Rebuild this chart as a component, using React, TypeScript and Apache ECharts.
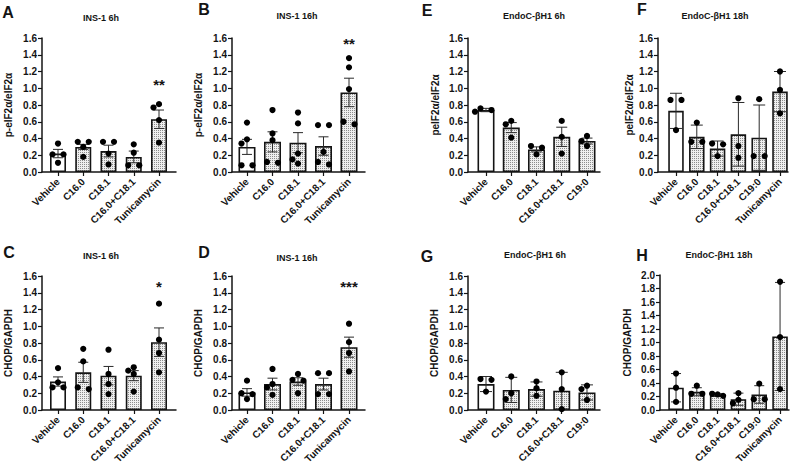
import React, { useEffect, useRef } from 'react';
import * as echarts from 'echarts';

const FONT = '"Liberation Sans", Arial, Helvetica, sans-serif';

// ---------- categories ----------
const catsINS1 = ['Vehicle', 'C16.0', 'C18.1', 'C16.0+C18.1', 'Tunicamycin'];
const catsEndoC6h = ['Vehicle', 'C16.0', 'C18.1', 'C16.0+C18.1', 'C19:0'];
const catsEndoC18h = ['Vehicle', 'C16.0', 'C18.1', 'C16.0+C18.1', 'C19:0', 'Tunicamycin'];

// ---------- A: INS-1 6h p-eIF2a ----------
const meanA = [0.22, 0.30, 0.25, 0.18, 0.63];
const errA = [0.05, 0.03, 0.07, 0.07, 0.11];
const ptsA = [[0.34, 0.21, 0.21, 0.11], [0.36, 0.36, 0.30, 0.18], [0.36, 0.36, 0.22, 0.09], [0.33, 0.23, 0.08, 0.08], [0.81, 0.77, 0.62, 0.35]];
const sigA = [{ cat: 4, y: 1.05, text: '**' }];

// ---------- B: INS-1 16h p-eIF2a ----------
const meanB = [0.30, 0.36, 0.35, 0.31, 0.95];
const errB = [0.09, 0.12, 0.12, 0.11, 0.17];
const ptsB = [[0.59, 0.39, 0.34, 0.08, 0.08], [0.74, 0.46, 0.38, 0.12, 0.11], [0.71, 0.58, 0.22, 0.15, 0.10], [0.56, 0.56, 0.24, 0.12, 0.09], [1.36, 1.25, 0.99, 0.60, 0.57]];
const sigB = [{ cat: 4, y: 1.53, text: '**' }];

// ---------- C: INS-1 6h CHOP ----------
const meanC = [0.34, 0.45, 0.41, 0.41, 0.81];
const errC = [0.055, 0.12, 0.11, 0.06, 0.17];
const ptsC = [[0.50, 0.33, 0.27, 0.27], [0.73, 0.58, 0.27, 0.25], [0.72, 0.43, 0.31, 0.19], [0.51, 0.47, 0.43, 0.22], [1.27, 0.84, 0.68, 0.45]];
const sigC = [{ cat: 4, y: 1.48, text: '*' }];

// ---------- D: INS-1 16h CHOP ----------
const meanD = [0.21, 0.31, 0.34, 0.31, 0.75];
const errD = [0.045, 0.07, 0.045, 0.07, 0.12];
const ptsD = [[0.35, 0.20, 0.19, 0.13], [0.49, 0.31, 0.27, 0.18], [0.43, 0.36, 0.35, 0.20], [0.44, 0.44, 0.19, 0.19], [1.03, 0.81, 0.68, 0.46]];
const sigD = [{ cat: 4, y: 1.47, text: '***' }];

// ---------- E: EndoC-βH1 6h p-eIF2a ----------
const meanE = [0.74, 0.53, 0.27, 0.42, 0.37];
const errE = [0.02, 0.06, 0.03, 0.115, 0.035];
const ptsE = [[0.76, 0.74, 0.72], [0.61, 0.57, 0.41], [0.31, 0.29, 0.21], [0.61, 0.42, 0.22], [0.43, 0.37, 0.31]];

// ---------- F: EndoC-βH1 18h p-eIF2a ----------
const meanF = [0.73, 0.42, 0.28, 0.45, 0.41, 0.96];
const errF = [0.21, 0.14, 0.09, 0.38, 0.39, 0.24];
const ptsF = [[0.86, 0.86, 0.50], [0.59, 0.36, 0.36], [0.34, 0.33, 0.19], [0.88, 0.31, 0.17], [0.87, 0.19, 0.19], [1.20, 0.98, 0.70]];

// ---------- G: EndoC-βH1 6h CHOP ----------
const meanG = [0.31, 0.24, 0.25, 0.23, 0.21];
const errG = [0.09, 0.15, 0.085, 0.22, 0.09];
const ptsG = [[0.37, 0.36, 0.22], [0.40, 0.20, 0.13], [0.34, 0.26, 0.17], [0.45, 0.25, 0.01], [0.29, 0.25, 0.12]];

// ---------- H: EndoC-βH1 18h CHOP ----------
const meanH = [0.33, 0.27, 0.22, 0.16, 0.23, 1.09];
const errH = [0.21, 0.06, 0.02, 0.09, 0.13, 0.80];
const ptsH = [[0.54, 0.33, 0.12], [0.36, 0.24, 0.24], [0.24, 0.23, 0.21], [0.25, 0.15, 0.10], [0.39, 0.16, 0.16], [1.90, 1.08, 0.31]];

const yNameINS = 'p-eIF2\u03b1/eIF2\u03b1';
const yNameEndo = 'peIF2\u03b1/eIF2\u03b1';
const yNameCHOP = 'CHOP/GAPDH';

type Sig = { cat: number; y: number; text: string };
type Panel = {
  letter: string; title: string; yName: string; cats: string[];
  mean: number[]; err: number[]; pts: number[][]; sig: Sig[]; yMax: number;
  box: { left: number; top: number; width: number; height: number };
  xRange: [number, number]; barWidth: number; capWidth: number; nameGap: number;
  titlePos: [number, number]; letterPos: [number, number];
};

const panels: Panel[] = [
  { letter: 'A', title: 'INS-1 6h', yName: yNameINS, cats: catsINS1, mean: meanA, err: errA, pts: ptsA, sig: sigA, yMax: 1.6,
    box: { left: 42, top: 38, width: 134, height: 134 }, xRange: [-0.634, 4.673], barWidth: 16, capWidth: 10, nameGap: 29,
    titlePos: [101, 18], letterPos: [8, 12] },
  { letter: 'B', title: 'INS-1 16h', yName: yNameINS, cats: catsINS1, mean: meanB, err: errB, pts: ptsB, sig: sigB, yMax: 1.6,
    box: { left: 232, top: 38, width: 133, height: 134 }, xRange: [-0.588, 4.627], barWidth: 17, capWidth: 10, nameGap: 29,
    titlePos: [297, 16], letterPos: [204, 9] },
  { letter: 'C', title: 'INS-1 6h', yName: yNameCHOP, cats: catsINS1, mean: meanC, err: errC, pts: ptsC, sig: sigC, yMax: 1.6,
    box: { left: 42, top: 276, width: 134, height: 134 }, xRange: [-0.634, 4.673], barWidth: 16, capWidth: 10, nameGap: 29,
    titlePos: [101, 256], letterPos: [9, 252] },
  { letter: 'D', title: 'INS-1 16h', yName: yNameCHOP, cats: catsINS1, mean: meanD, err: errD, pts: ptsD, sig: sigD, yMax: 1.6,
    box: { left: 232, top: 276, width: 133, height: 134 }, xRange: [-0.588, 4.627], barWidth: 17, capWidth: 10, nameGap: 29,
    titlePos: [297, 258], letterPos: [204, 252] },
  { letter: 'E', title: 'EndoC-\u03b2H1 6h', yName: yNameEndo, cats: catsEndoC6h, mean: meanE, err: errE, pts: ptsE, sig: [], yMax: 1.6,
    box: { left: 468, top: 38, width: 132, height: 134 }, xRange: [-0.713, 4.515], barWidth: 17, capWidth: 11, nameGap: 28,
    titlePos: [534, 16], letterPos: [427, 10] },
  { letter: 'F', title: 'EndoC-\u03b2H1 18h', yName: yNameEndo, cats: catsEndoC18h, mean: meanF, err: errF, pts: ptsF, sig: [], yMax: 1.6,
    box: { left: 658, top: 38, width: 130, height: 134 }, xRange: [-0.865, 5.385], barWidth: 15.5, capWidth: 12, nameGap: 24,
    titlePos: [715, 16], letterPos: [642, 9] },
  { letter: 'G', title: 'EndoC-\u03b2H1 6h', yName: yNameCHOP, cats: catsEndoC6h, mean: meanG, err: errG, pts: ptsG, sig: [], yMax: 1.6,
    box: { left: 468, top: 276, width: 132, height: 134 }, xRange: [-0.713, 4.515], barWidth: 17, capWidth: 12, nameGap: 29,
    titlePos: [535, 255], letterPos: [427, 256] },
  { letter: 'H', title: 'EndoC-\u03b2H1 18h', yName: yNameCHOP, cats: catsEndoC18h, mean: meanH, err: errH, pts: ptsH, sig: [], yMax: 2.0,
    box: { left: 660, top: 275, width: 129, height: 135 }, xRange: [-0.77, 5.43], barWidth: 15.5, capWidth: 10, nameGap: 28,
    titlePos: [719, 255], letterPos: [642, 255] },
];

const INK = '#141414';

function makeStipple(): any {
  try {
    const c = document.createElement('canvas');
    c.width = 2;
    c.height = 2;
    const ctx = c.getContext('2d');
    if (!ctx) return '#d4d4d4';
    ctx.fillStyle = '#efefef';
    ctx.fillRect(0, 0, 2, 2);
    ctx.fillStyle = '#8c8c8c';
    ctx.fillRect(0, 0, 1, 1);
    return { image: c, repeat: 'repeat' };
  } catch (e) {
    return '#d4d4d4';
  }
}

function dotRenderer(p: Panel) {
  return (params: any, api: any) => {
    const k = params.dataIndex;
    const vals = [...p.pts[k]].sort((a, b) => b - a);
    const s = 5.5, thr = 6, rowThr = 3;
    const cx = api.coord([k, 0])[0];
    const placed: { x: number; y: number }[] = [];
    let i = 0;
    while (i < vals.length) {
      const y0 = api.coord([k, vals[i]])[1];
      let j = i + 1;
      while (j < vals.length && Math.abs(api.coord([k, vals[j]])[1] - y0) < rowThr) j++;
      const n = j - i;
      if (n === 1) {
        let done = false;
        for (const off of [0, -s, s, -2 * s, 2 * s]) {
          if (placed.every(q => Math.hypot(q.x - (cx + off), q.y - y0) >= thr)) {
            placed.push({ x: cx + off, y: y0 });
            done = true;
            break;
          }
        }
        if (!done) placed.push({ x: cx, y: y0 });
      } else {
        for (let t = 0; t < n; t++) {
          const off = n === 2 ? (t === 0 ? -s : s) : (t - (n - 1) / 2) * s;
          placed.push({ x: cx + off, y: api.coord([k, vals[i + t]])[1] });
        }
      }
      i = j;
    }
    return {
      type: 'group',
      children: placed.map(q => ({ type: 'circle', shape: { cx: q.x, cy: q.y, r: 3.1 }, style: { fill: '#000' } })),
    };
  };
}

function errRenderer(p: Panel) {
  return (params: any, api: any) => {
    const k = api.value(0), m = api.value(1), e = api.value(2);
    const top = api.coord([k, m + e]);
    const bot = api.coord([k, Math.max(0, m - e)]);
    const h = p.capWidth / 2;
    const st = { stroke: '#2a2a2a', lineWidth: 1 };
    return {
      type: 'group',
      children: [
        { type: 'line', shape: { x1: top[0], y1: top[1], x2: bot[0], y2: bot[1] }, style: st },
        { type: 'line', shape: { x1: top[0] - h, y1: top[1], x2: top[0] + h, y2: top[1] }, style: st },
        { type: 'line', shape: { x1: bot[0] - h, y1: bot[1], x2: bot[0] + h, y2: bot[1] }, style: st },
      ],
    };
  };
}

function sigRenderer(p: Panel) {
  return (params: any, api: any) => {
    const c = api.coord([api.value(0), api.value(1)]);
    return {
      type: 'text',
      x: c[0],
      y: c[1],
      style: {
        text: p.sig[params.dataIndex].text,
        font: `bold 15px ${FONT}`,
        fill: INK,
        textAlign: 'center',
        textVerticalAlign: 'middle',
      },
    };
  };
}

function buildOption() {
  const stipple = makeStipple();
  const axisLineStyle = { color: INK, width: 1.5 };
  const labelStyle = { fontSize: 10, fontWeight: 'bold' as const, fontFamily: FONT, color: INK };
  const series: any[] = [];
  panels.forEach((p, i) => {
    series.push({
      type: 'bar',
      xAxisIndex: i,
      yAxisIndex: i,
      barWidth: p.barWidth,
      z: 2,
      itemStyle: { borderColor: INK, borderWidth: 1.6 },
      data: p.mean.map((m, k) => ({ value: [k, m], itemStyle: { color: k === 0 ? '#ffffff' : stipple } })),
    });
    series.push({
      type: 'custom',
      xAxisIndex: i,
      yAxisIndex: i,
      z: 3,
      encode: { x: 0, y: 1 },
      renderItem: errRenderer(p),
      data: p.mean.map((m, k) => [k, m, p.err[k]]),
    });
    series.push({
      type: 'custom',
      xAxisIndex: i,
      yAxisIndex: i,
      z: 4,
      encode: { x: 0, y: 1 },
      renderItem: dotRenderer(p),
      data: p.pts.map((v, k) => [k, Math.max(...v)]),
    });
    if (p.sig.length) {
      series.push({
        type: 'custom',
        xAxisIndex: i,
        yAxisIndex: i,
        z: 5,
        encode: { x: 0, y: 1 },
        renderItem: sigRenderer(p),
        data: p.sig.map(s => [s.cat, s.y]),
      });
    }
  });

  const graphics: any[] = [];
  panels.forEach(p => {
    graphics.push({
      type: 'text', x: p.titlePos[0], y: p.titlePos[1],
      style: { text: p.title, font: `bold 9px ${FONT}`, fill: INK, textAlign: 'center', textVerticalAlign: 'middle' },
    });
    graphics.push({
      type: 'text', x: p.letterPos[0], y: p.letterPos[1],
      style: { text: p.letter, font: `bold 16px ${FONT}`, fill: INK, textAlign: 'center', textVerticalAlign: 'middle' },
    });
  });

  return {
    animation: false,
    backgroundColor: '#ffffff',
    grid: panels.map(p => ({ left: p.box.left, top: p.box.top, width: p.box.width, height: p.box.height })),
    xAxis: panels.map((p, i) => ({
      type: 'value',
      gridIndex: i,
      min: p.xRange[0],
      max: p.xRange[1],
      splitLine: { show: false },
      axisLine: { show: true, onZero: false, lineStyle: axisLineStyle },
      axisTick: { show: true, length: 4, customValues: p.cats.map((_, k) => k), lineStyle: { color: INK, width: 1.2 } },
      axisLabel: {
        show: true,
        customValues: p.cats.map((_, k) => k),
        formatter: (v: number) => p.cats[Math.round(v)] ?? '',
        rotate: 45,
        margin: 8,
        ...labelStyle,
      },
    })),
    yAxis: panels.map((p, i) => ({
      type: 'value',
      gridIndex: i,
      min: 0,
      max: p.yMax,
      interval: 0.2,
      name: p.yName,
      nameLocation: 'middle',
      nameGap: p.nameGap,
      nameTextStyle: { fontSize: 10, fontWeight: 'bold', fontFamily: FONT, color: INK },
      splitLine: { show: false },
      axisLine: { show: true, onZero: false, lineStyle: axisLineStyle },
      axisTick: { show: true, length: 4, lineStyle: { color: INK, width: 1.2 } },
      axisLabel: { margin: 5, formatter: (v: number) => v.toFixed(1), ...labelStyle },
    })),
    series,
    graphic: { elements: graphics },
  };
}

export default function App() {
  const ref = useRef<HTMLDivElement>(null);
  useEffect(() => {
    if (!ref.current) return;
    const chart = echarts.init(ref.current, undefined, { renderer: 'svg' });
    chart.setOption(buildOption() as any);
    return () => chart.dispose();
  }, []);
  return (
    <div
      ref={ref}
      style={{ position: 'fixed', left: 0, top: 0, width: 800, height: 470, background: '#fff' }}
    />
  );
}
